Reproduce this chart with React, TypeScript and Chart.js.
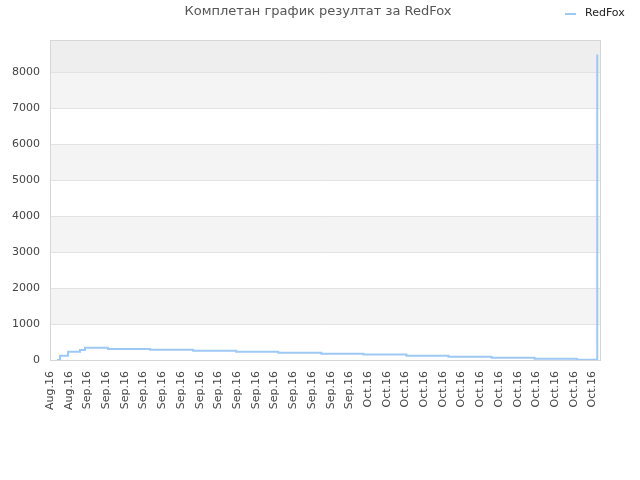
import { useEffect, useRef } from "react";
import { Chart, registerables } from "chart.js";
Chart.register(...registerables);

const title = "Комплетан график резултат за RedFox";
const seriesName = "RedFox";

// x = days after Aug 29, 2016 ; step changes of the result
const dayValues = [0.75, 1.07, 1.93, 3.2, 3.74, 6.2, 10.7, 15.3, 19.9, 24.4, 29.0, 33.5, 38.1, 42.6, 47.2, 51.8, 56.3, 58.5];
const resultValues = [0, 120, 230, 280, 340, 305, 285, 260, 230, 205, 175, 150, 120, 92, 65, 37, 10, 8500];

const xTickLabels = [
  "Aug.16", "Aug.16",
  "Sep.16", "Sep.16", "Sep.16", "Sep.16", "Sep.16", "Sep.16", "Sep.16", "Sep.16",
  "Sep.16", "Sep.16", "Sep.16", "Sep.16", "Sep.16", "Sep.16", "Sep.16",
  "Oct.16", "Oct.16", "Oct.16", "Oct.16", "Oct.16", "Oct.16", "Oct.16",
  "Oct.16", "Oct.16", "Oct.16", "Oct.16", "Oct.16", "Oct.16",
];
const yTicks = [0, 1000, 2000, 3000, 4000, 5000, 6000, 7000, 8000];

const lineColor = "#9dc9f4";
const font = "DejaVu Sans";

const decorPlugin = {
  id: "decor",
  beforeDatasetsDraw: (chart: any) => {
    const { ctx, chartArea } = chart;
    const y = chart.scales.y;
    ctx.save();
    // top band above the last tick
    ctx.fillStyle = "#eeeeee";
    const topTick = y.getPixelForValue(yTicks[yTicks.length - 1]);
    ctx.fillRect(chartArea.left, chartArea.top, chartArea.right - chartArea.left, topTick - chartArea.top);
    for (let i = 0; i < yTicks.length - 1; i++) {
      if (i % 2 === 1) {
        const y0 = y.getPixelForValue(yTicks[i]);
        const y1 = y.getPixelForValue(yTicks[i + 1]);
        ctx.fillStyle = "#f4f4f4";
        ctx.fillRect(chartArea.left, y1, chartArea.right - chartArea.left, y0 - y1);
      }
    }
    ctx.strokeStyle = "#e2e2e2";
    ctx.lineWidth = 1;
    yTicks.forEach((t) => {
      const py = Math.round(y.getPixelForValue(t)) + 0.5;
      ctx.beginPath();
      ctx.moveTo(chartArea.left, py);
      ctx.lineTo(chartArea.right, py);
      ctx.stroke();
    });
    ctx.strokeStyle = "#d6d6d6";
    ctx.strokeRect(chartArea.left + 0.5, chartArea.top + 0.5, chartArea.right - chartArea.left - 1, chartArea.bottom - chartArea.top);
    ctx.restore();
  },
  afterDraw: (chart: any) => {
    const { ctx } = chart;
    ctx.save();
    ctx.font = `13px "${font}"`;
    ctx.fillStyle = "#555555";
    ctx.textAlign = "center";
    ctx.textBaseline = "middle";
    ctx.fillText(title, 318, 12);
    ctx.strokeStyle = lineColor;
    ctx.lineWidth = 2;
    ctx.beginPath();
    ctx.moveTo(565, 14);
    ctx.lineTo(576, 14);
    ctx.stroke();
    ctx.font = `11px "${font}"`;
    ctx.fillStyle = "#222222";
    ctx.textAlign = "left";
    ctx.fillText(seriesName, 585, 13);
    ctx.restore();
  },
};

const App = () => {
  const canvasRef = useRef<HTMLCanvasElement>(null);

  useEffect(() => {
    const chart = new Chart(canvasRef.current!, {
      type: "line",
      data: {
        datasets: [
          {
            label: seriesName,
            data: dayValues.map((d, i) => ({ x: d, y: resultValues[i] })),
            borderColor: lineColor,
            borderWidth: 2,
            stepped: "before",
            pointRadius: 0,
            fill: false,
          },
        ],
      },
      options: {
        responsive: false,
        animation: false,
        devicePixelRatio: 1,
        layout: { padding: { left: 0, right: 39, top: 40, bottom: 0 } },
        plugins: {
          legend: { display: false },
          title: { display: false },
          tooltip: { enabled: false },
        },
        scales: {
          x: {
            type: "linear",
            min: 0,
            max: 58.9,
            grid: { display: false, drawTicks: false },
            border: { display: false },
            afterBuildTicks: (scale: any) => {
              scale.ticks = xTickLabels.map((_, i) => ({ value: i * 2 }));
            },
            afterFit: (scale: any) => {
              scale.height = 120;
            },
            ticks: {
              autoSkip: false,
              maxRotation: 90,
              minRotation: 90,
              padding: 11,
              color: "#444444",
              font: { family: font, size: 11 },
              callback: (_v: any, i: number) => xTickLabels[i],
            },
          },
          y: {
            min: 0,
            max: 8900,
            grid: { display: false, drawTicks: false },
            border: { display: false },
            afterBuildTicks: (scale: any) => {
              scale.ticks = yTicks.map((v) => ({ value: v }));
            },
            afterFit: (scale: any) => {
              scale.width = 50;
            },
            ticks: {
              padding: 10,
              color: "#444444",
              font: { family: font, size: 11 },
              callback: (v: any) => String(v),
            },
          },
        },
      },
      plugins: [decorPlugin],
    });
    return () => {
      chart.destroy();
    };
  }, []);

  return (
    <div style={{ position: "fixed", left: 0, top: 0, width: 640, height: 480, background: "#fff" }}>
      <canvas ref={canvasRef} width={640} height={480} />
    </div>
  );
};

export default App;
